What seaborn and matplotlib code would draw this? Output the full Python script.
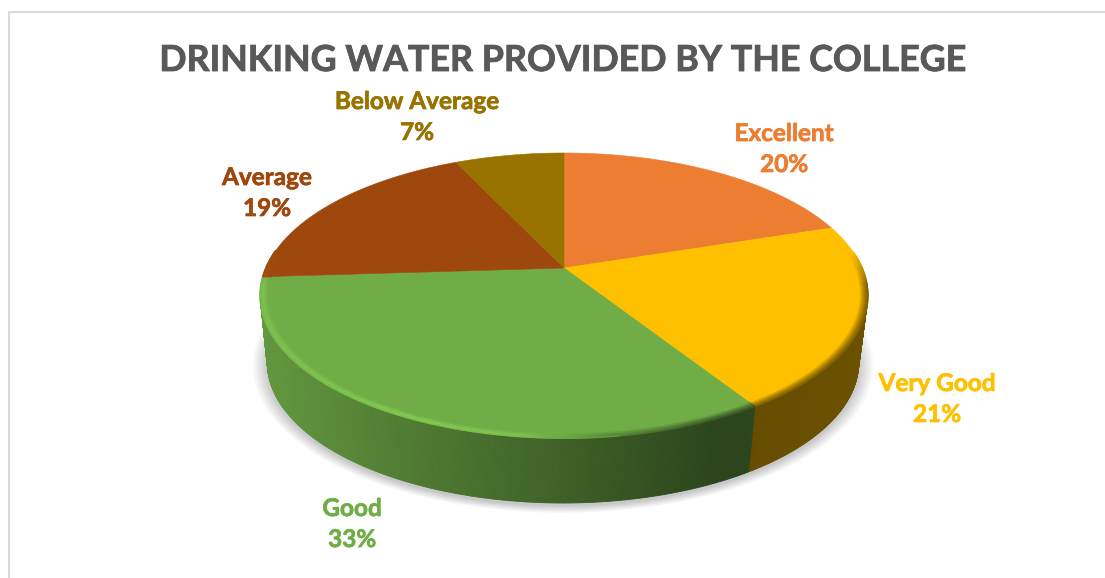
import numpy as np
import matplotlib
matplotlib.use("Agg")
import matplotlib.pyplot as plt
import matplotlib.patheffects as pe
from matplotlib.collections import LineCollection, PolyCollection
import seaborn as sns

# ---- data ----
categories = ["Excellent", "Very Good", "Good", "Average", "Below Average"]
percent = [20, 21, 33, 19, 7]
slice_colors = ["#ED7D31", "#FFC000", "#70AD47", "#9E480E", "#997300"]
chart_title = "DRINKING WATER PROVIDED BY THE COLLEGE"

sns.set_theme(style="white")
plt.rcParams["font.family"] = ["Lato", "DejaVu Sans"]
palette = sns.color_palette(slice_colors)

W, H = 1105, 578
fig = plt.figure(figsize=(W / 100, H / 100), dpi=100)
ax = fig.add_axes([0, 0, 1, 1])
ax.set_xlim(0, W)
ax.set_ylim(H, 0)
ax.axis("off")


# circle seen from above in perspective, the hub sits above the ellipse centre
def project(t, r=1.0, bottom=False):
    X, Y = r * np.cos(t), r * np.sin(t)
    w = 1 + 0.193 * Y
    x = 564 + 298 * X / w
    y = 268 - 137.2 * Y / w
    if bottom:
        x = 563 + (x - 564) * 296 / 304
        y = 362 + (y - 295) * 140 / 142
    return x, y


def wall_factor(x):
    return np.interp(x, [265, 400, 560, 720, 860], [0.87, 0.72, 0.56, 0.39, 0.42])


def rim_factor(x):
    return np.interp(x, [260, 400, 520, 620, 720, 870], [1.12, 1.18, 1.14, 0.75, 0.5, 0.5])


# slice angles, clockwise from the top
edges = np.cumsum([0] + percent) / sum(percent) * 2 * np.pi
starts = np.pi / 2 - edges[:-1]
stops = np.pi / 2 - edges[1:]

# soft shadow
t_all = np.linspace(0, 2 * np.pi, 240)
bx, by = project(t_all, bottom=True)
for grow in np.linspace(1.0, 1.05, 14):
    ax.fill(563 + (bx - 563) * grow, 365 + (by - 362) * grow, color="#000000",
            alpha=0.014, lw=0, zorder=1)

# side wall, front part only
for a, b, col in zip(starts, stops, palette):
    ts = np.linspace(a, b, int(abs(b - a) * 120) + 2)
    xt, yt = project(ts)
    xb, yb = project(ts, bottom=True)
    quads, faces = [], []
    for i in range(len(ts) - 1):
        if np.sin(ts[i]) > -0.1:
            continue
        quads.append([(xt[i], yt[i]), (xt[i + 1], yt[i + 1]), (xb[i + 1], yb[i + 1]), (xb[i], yb[i])])
        faces.append(np.array(col) * wall_factor((xt[i] + xt[i + 1]) / 2))
    if quads:
        ax.add_collection(PolyCollection(quads, facecolors=faces, edgecolors=faces, linewidths=0.6, zorder=2))

# top faces
for a, b, col in zip(starts, stops, palette):
    ts = np.linspace(a, b, 120)
    xs, ys = project(ts)
    hub_x, hub_y = project(0.0, r=0.0)
    ax.fill(np.r_[hub_x, xs], np.r_[hub_y, ys], color=col, ec=col, lw=0.4, zorder=3)

# bevel along the front edge
for a, b, col in zip(starts, stops, palette):
    ts = np.linspace(a, b, int(abs(b - a) * 120) + 2)
    base = np.array(col)
    for r, mix in zip(np.linspace(1.0, 0.972, 9), np.linspace(0, 1, 9)):
        xs, ys = project(ts, r=r)
        segs, cols = [], []
        for i in range(len(ts) - 1):
            fade = np.clip((0.12 - np.sin(ts[i])) / 0.25, 0, 1)
            if fade <= 0:
                continue
            edge = np.clip(base * rim_factor(xs[i]), 0, 1)
            m = mix ** 1.3 if xs[i] > 620 else abs(mix - 0.35) / 0.65
            m = 1 - (1 - m) * fade
            segs.append([(xs[i], ys[i]), (xs[i + 1], ys[i + 1])])
            cols.append(edge * (1 - m) + base * m)
        if segs:
            ax.add_collection(LineCollection(segs, colors=cols, linewidths=1.3, zorder=4, capstyle="round"))

# chart frame
ax.plot([8.5, 8.5, W], [H, 11.5, 11.5], color="#D9D9D9", lw=1.5, zorder=0)

# title and labels
ax.text(563, 60.5, chart_title, ha="center", va="center", fontsize=25.8, fontweight="bold",
        color="#595959", zorder=6,
        path_effects=[pe.withStroke(linewidth=0.6, foreground="#595959")])
label_pos = [(784, 149), (937, 399), (352, 524), (267, 193), (417, 117)]
for name, p, col, (lx, ly) in zip(categories, percent, palette, label_pos):
    ax.text(lx, ly, f"{name}\n{p}%", ha="center", va="center", fontsize=17.5, fontweight="bold",
            color=col, linespacing=1.42, zorder=6,
            path_effects=[pe.withStroke(linewidth=0.5, foreground=col)])

fig.savefig("out.png", dpi=100, facecolor="white")
